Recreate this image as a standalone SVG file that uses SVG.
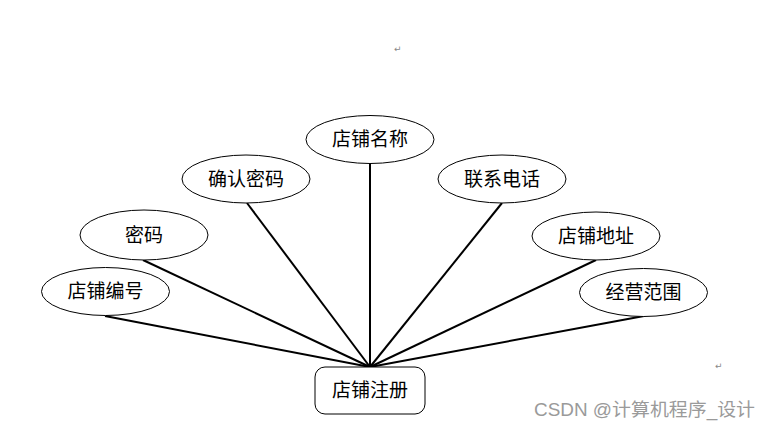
<svg xmlns="http://www.w3.org/2000/svg" width="771" height="427" viewBox="0 0 771 427">
<style>
.n ellipse,.n rect{fill:#fff;stroke:#000;stroke-width:1}
.n text{font-family:"Liberation Serif","Noto Sans CJK SC",serif;font-size:19px;fill:#000;text-anchor:middle;dominant-baseline:central}
#edges line{stroke:#000;stroke-width:2}
.mark{font-family:"DejaVu Sans",sans-serif;font-size:9px;fill:#888}
.wm{font-family:"Liberation Sans","Noto Sans CJK SC",sans-serif;font-size:18px;fill:#9a9a9a}
</style>
<rect width="771" height="427" fill="#fff"/>
<text class="mark" x="394" y="52">↵</text>
<text class="mark" x="715" y="369">↵</text>
<g id="edges">
<line x1="370" y1="163" x2="370" y2="367"/>
<line x1="247" y1="203" x2="370" y2="367"/>
<line x1="143" y1="260" x2="370" y2="367"/>
<line x1="105" y1="316" x2="370" y2="367"/>
<line x1="502" y1="203" x2="370" y2="367"/>
<line x1="596" y1="260" x2="370" y2="367"/>
<line x1="644" y1="316" x2="370" y2="367"/>
</g>
<g id="n1" class="n"><ellipse cx="370" cy="139.5" rx="64" ry="24"/><text x="370" y="139.5">店铺名称</text></g>
<g id="n2" class="n"><ellipse cx="246" cy="179" rx="64" ry="24"/><text x="246" y="179">确认密码</text></g>
<g id="n3" class="n"><ellipse cx="502" cy="179" rx="64" ry="24"/><text x="502" y="179">联系电话</text></g>
<g id="n4" class="n"><ellipse cx="144" cy="235" rx="64" ry="25"/><text x="144" y="235">密码</text></g>
<g id="n5" class="n"><ellipse cx="596" cy="236" rx="64" ry="24"/><text x="596" y="236">店铺地址</text></g>
<g id="n6" class="n"><ellipse cx="105.5" cy="291.5" rx="64" ry="24"/><text x="105.5" y="291.5">店铺编号</text></g>
<g id="n7" class="n"><ellipse cx="643.5" cy="292.5" rx="64" ry="24"/><text x="643.5" y="292.5">经营范围</text></g>
<g id="n8" class="n"><rect x="315" y="367" width="110" height="47" rx="10"/><text x="370" y="390.5">店铺注册</text></g>
<text class="wm" x="534" y="416" textLength="221" lengthAdjust="spacingAndGlyphs">CSDN @计算机程序_设计</text>
</svg>
